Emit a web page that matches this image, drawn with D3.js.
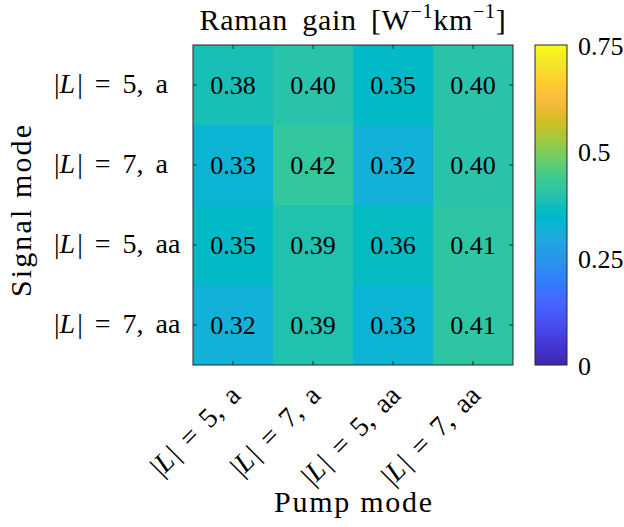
<!DOCTYPE html>
<html>
<head>
<meta charset="utf-8">
<script src="https://cdn.jsdelivr.net/npm/d3@7"></script>
<style>
  body { margin: 0; background: #fff; }
</style>
</head>
<body>
<div id="vis"></div>
<script>

const FRAME_WIDTH = 624;
const FRAME_HEIGHT = 527;
const MARGINS = {left: 193, top: 45};
const VIS_WIDTH = 320;
const VIS_HEIGHT = 320;
const FONT = "Liberation Serif";

// modes (signal = rows, pump = columns)
const pumpModes = ["5, a", "7, a", "5, aa", "7, aa"];
const signalModes = ["5, a", "7, a", "5, aa", "7, aa"];

// gain values, one array per signal mode
const rowL5a  = [0.38, 0.40, 0.35, 0.40];
const rowL7a  = [0.33, 0.42, 0.32, 0.40];
const rowL5aa = [0.35, 0.39, 0.36, 0.41];
const rowL7aa = [0.32, 0.39, 0.33, 0.41];
const gainRows = [rowL5a, rowL7a, rowL5aa, rowL7aa];

const colorTicks = [0, 0.25, 0.5, 0.75];
const colorTickLabels = ["0", "0.25", "0.5", "0.75"];

// parula(64)
const PARULA = [
[0.2422,0.1504,0.6603],[0.2504,0.1650,0.7076],[0.2578,0.1818,0.7511],[0.2647,0.1978,0.7952],
[0.2706,0.2147,0.8364],[0.2751,0.2342,0.8710],[0.2783,0.2559,0.8991],[0.2803,0.2782,0.9221],
[0.2813,0.3006,0.9414],[0.2810,0.3228,0.9579],[0.2795,0.3447,0.9717],[0.2760,0.3667,0.9829],
[0.2699,0.3892,0.9906],[0.2602,0.4123,0.9952],[0.2440,0.4358,0.9988],[0.2206,0.4603,0.9973],
[0.1963,0.4847,0.9892],[0.1834,0.5074,0.9798],[0.1786,0.5289,0.9682],[0.1764,0.5499,0.9520],
[0.1687,0.5703,0.9359],[0.1540,0.5902,0.9218],[0.1460,0.6091,0.9079],[0.1380,0.6276,0.8973],
[0.1248,0.6459,0.8883],[0.1113,0.6635,0.8763],[0.0952,0.6798,0.8598],[0.0689,0.6948,0.8394],
[0.0297,0.7082,0.8163],[0.0036,0.7203,0.7917],[0.0067,0.7312,0.7660],[0.0433,0.7411,0.7394],
[0.0964,0.7500,0.7120],[0.1408,0.7584,0.6842],[0.1717,0.7670,0.6554],[0.1938,0.7758,0.6251],
[0.2161,0.7843,0.5923],[0.2470,0.7918,0.5567],[0.2906,0.7973,0.5188],[0.3406,0.8008,0.4789],
[0.3909,0.8029,0.4354],[0.4456,0.8024,0.3909],[0.5044,0.7993,0.3480],[0.5616,0.7942,0.3045],
[0.6174,0.7876,0.2612],[0.6720,0.7793,0.2227],[0.7242,0.7698,0.1910],[0.7738,0.7598,0.1646],
[0.8203,0.7498,0.1535],[0.8634,0.7406,0.1596],[0.9035,0.7330,0.1774],[0.9393,0.7288,0.2100],
[0.9728,0.7298,0.2394],[0.9956,0.7434,0.2371],[0.9970,0.7659,0.2199],[0.9952,0.7893,0.2028],
[0.9892,0.8136,0.1885],[0.9786,0.8386,0.1766],[0.9676,0.8639,0.1643],[0.9610,0.8890,0.1537],
[0.9597,0.9135,0.1423],[0.9628,0.9373,0.1265],[0.9691,0.9606,0.1064],[0.9769,0.9839,0.0805]
].map(c => d3.rgb(c[0]*255, c[1]*255, c[2]*255).formatHex());

const COLOR = d3.scaleLinear()
                .domain(d3.range(PARULA.length).map(i => 0.75 * i / (PARULA.length - 1)))
                .range(PARULA)
                .clamp(true);

const FRAME = d3.select("#vis")
                .append("svg")
                  .attr("width", FRAME_WIDTH)
                  .attr("height", FRAME_HEIGHT);

const X_SCALE = d3.scaleBand().domain(pumpModes).range([0, VIS_WIDTH]);
const Y_SCALE = d3.scaleBand().domain(signalModes).range([0, VIS_HEIGHT]);

const cells = [];
gainRows.forEach((row, i) => {
  row.forEach((v, j) => cells.push({sig: signalModes[i], pump: pumpModes[j], v: v}));
});

const plot = FRAME.append("g")
                  .attr("transform", "translate(" + MARGINS.left + "," + MARGINS.top + ")");

plot.selectAll("rect.cell")
    .data(cells)
    .enter()
    .append("rect")
      .attr("x", d => X_SCALE(d.pump))
      .attr("y", d => Y_SCALE(d.sig))
      .attr("width", X_SCALE.bandwidth())
      .attr("height", Y_SCALE.bandwidth())
      .attr("fill", d => COLOR(d.v));

plot.selectAll("text.val")
    .data(cells)
    .enter()
    .append("text")
      .style("font-family", FONT)
      .attr("x", d => X_SCALE(d.pump) + X_SCALE.bandwidth() / 2)
      .attr("y", d => Y_SCALE(d.sig) + Y_SCALE.bandwidth() / 2 + 8.5)
      .attr("text-anchor", "middle")
      .attr("font-size", "26px")
      .text(d => d.v.toFixed(2));

// inward ticks on all four sides
const TICK = 4;
plot.append("g").call(d3.axisLeft(Y_SCALE).tickSize(-TICK).tickFormat(""));
plot.append("g").attr("transform", "translate(" + VIS_WIDTH + ",0)")
    .call(d3.axisRight(Y_SCALE).tickSize(-TICK).tickFormat(""));
plot.append("g").call(d3.axisTop(X_SCALE).tickSize(-TICK).tickFormat(""));
plot.append("g").attr("transform", "translate(0," + VIS_HEIGHT + ")")
    .call(d3.axisBottom(X_SCALE).tickSize(-TICK).tickFormat(""));
plot.selectAll(".domain").remove();
plot.selectAll(".tick line").attr("stroke", "#262626");

plot.append("rect")
    .attr("width", VIS_WIDTH)
    .attr("height", VIS_HEIGHT)
    .attr("fill", "none")
    .attr("stroke", "#262626")
    .attr("stroke-width", 1);

// latex-ish label: |L| = 5, a  (math spacing made wider with word-spacing)
function modeLabel(t, s) {
  t.style("font-family", FONT)
   .style("word-spacing", "5px")
   .attr("font-size", "28px");
  t.append("tspan").text("|");
  t.append("tspan").attr("font-style", "italic").text("L");
  t.append("tspan").attr("dx", 2).text("| = " + s);
}

// y tick labels (left aligned)
signalModes.forEach(s => {
  const t = plot.append("text")
      .attr("x", 54 - MARGINS.left)
      .attr("y", Y_SCALE(s) + Y_SCALE.bandwidth() / 2 + 8)
      .attr("text-anchor", "start");
  modeLabel(t, s);
});

// x tick labels, rotated 45 degrees
pumpModes.forEach(s => {
  const t = plot.append("text")
      .attr("transform", "translate(" + (X_SCALE(s) + X_SCALE.bandwidth() / 2 + 9) + "," + (VIS_HEIGHT + 32) + ") rotate(-45)")
      .attr("text-anchor", "end");
  modeLabel(t, s);
});

// axis labels and title
FRAME.append("text")
     .style("font-family", FONT)
     .attr("x", MARGINS.left + VIS_WIDTH / 2)
     .attr("y", 512)
     .attr("text-anchor", "middle")
     .attr("font-size", "30px")
     .attr("textLength", 158)
     .attr("lengthAdjust", "spacing")
     .text("Pump mode");

FRAME.append("text")
     .style("font-family", FONT)
     .attr("transform", "translate(31,211) rotate(-90)")
     .attr("text-anchor", "middle")
     .attr("font-size", "30px")
     .attr("textLength", 172)
     .attr("lengthAdjust", "spacing")
     .text("Signal mode");

const title = FRAME.append("text")
     .style("font-family", FONT)
     .style("word-spacing", "6px")
     .style("letter-spacing", "0.7px")
     .attr("x", MARGINS.left + VIS_WIDTH / 2)
     .attr("y", 30)
     .attr("text-anchor", "middle")
     .attr("font-size", "30px");
title.append("tspan").text("Raman gain [W");
title.append("tspan").attr("dy", -12).attr("font-size", "20px").text("\u22121");
title.append("tspan").attr("dy", 12).text("km");
title.append("tspan").attr("dy", -12).attr("font-size", "20px").text("\u22121");
title.append("tspan").attr("dy", 12).text("]");

// colorbar
const CB = {x: 535, w: 32};
const C_SCALE = d3.scaleLinear().domain([0, 0.75]).range([MARGINS.top + VIS_HEIGHT, MARGINS.top]);

const grad = FRAME.append("defs").append("linearGradient")
                  .attr("id", "parula")
                  .attr("x1", 0).attr("y1", 1).attr("x2", 0).attr("y2", 0);
grad.selectAll("stop")
    .data(PARULA)
    .enter()
    .append("stop")
      .attr("offset", (d, i) => i / (PARULA.length - 1))
      .attr("stop-color", d => d);

FRAME.append("rect")
     .attr("x", CB.x)
     .attr("y", C_SCALE(0.75))
     .attr("width", CB.w)
     .attr("height", C_SCALE(0) - C_SCALE(0.75))
     .attr("fill", "url(#parula)")
     .attr("stroke", "#262626")
     .attr("stroke-width", 1);

const cAxis = FRAME.append("g")
     .attr("transform", "translate(" + (CB.x + CB.w) + ",0)")
     .call(d3.axisRight(C_SCALE)
             .tickValues(colorTicks)
             .tickSize(0)
             .tickPadding(11)
             .tickFormat((d, i) => colorTickLabels[i]));
cAxis.select(".domain").remove();
cAxis.selectAll("text")
     .style("font-family", FONT)
     .attr("fill", "#000")
     .attr("font-size", "26px")
     .attr("dy", "0.35em");

</script>
</body>
</html>
